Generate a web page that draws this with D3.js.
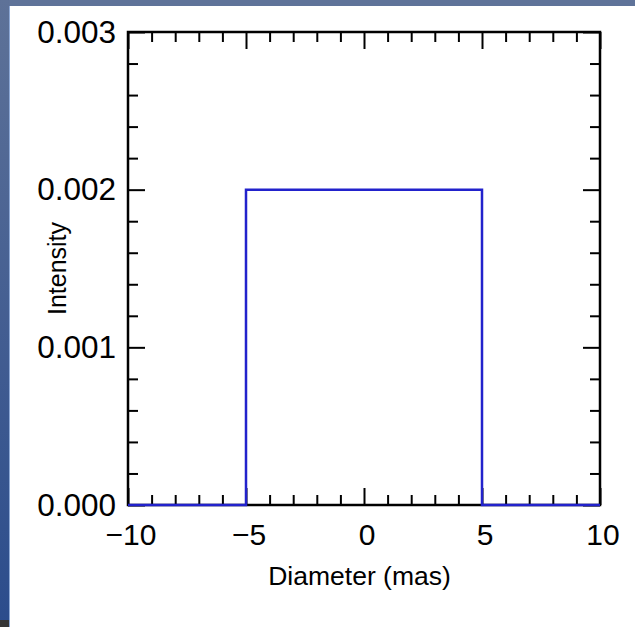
<!DOCTYPE html>
<html>
<head>
<meta charset="utf-8">
<script src="https://cdn.jsdelivr.net/npm/d3@7"></script>
<style>
  body { margin: 0; background: #fff; }
  svg { display: block; }
  text { font-family: "Liberation Sans", Arial, Helvetica, sans-serif; fill: #000; }
</style>
</head>
<body>
<div id="chart"></div>
<script>
// step profile of a uniform disk
const diameter = [-10, -5, -5, 5, 5, 10];
const intensity = [0, 0, 0.002, 0.002, 0, 0];

const xMajor = [-10, -5, 0, 5, 10];
const xMinor = [-9, -8, -7, -6, -4, -3, -2, -1, 1, 2, 3, 4, 6, 7, 8, 9];
const yMajor = [0, 0.001, 0.002, 0.003];
const yMinor = [0.0002, 0.0004, 0.0006, 0.0008, 0.0012, 0.0014, 0.0016, 0.0018,
                0.0022, 0.0024, 0.0026, 0.0028];
const xLabels = ["\u221210", "\u22125", "0", "5", "10"];
const yLabels = ["0.000", "0.001", "0.002", "0.003"];

const W = 635, H = 627;
const margin = { top: 32, right: 35, bottom: 122, left: 128 };
const width = W - margin.left - margin.right;
const height = H - margin.top - margin.bottom;

const root = d3.select("#chart").append("svg")
    .attr("width", W)
    .attr("height", H);

// 背景边框
const defs = root.append("defs");
const grad = defs.append("linearGradient")
    .attr("id", "side").attr("x1", 0).attr("y1", 0).attr("x2", 0).attr("y2", 1);
grad.append("stop").attr("offset", "0%").attr("stop-color", "#5e7298");
grad.append("stop").attr("offset", "100%").attr("stop-color", "#2b4c8c");

root.append("rect").attr("x", 0).attr("y", 0).attr("width", W).attr("height", 6).attr("fill", "#5f7399");
root.append("rect").attr("x", 0).attr("y", 0).attr("width", 9).attr("height", H).attr("fill", "url(#side)");
root.append("rect").attr("x", 9).attr("y", 6).attr("width", 1).attr("height", H - 6).attr("fill", "#8ea9d6");
root.append("rect").attr("x", 0).attr("y", 620).attr("width", 9).attr("height", 7).attr("fill", "#353535");

const svg = root.append("g")
    .attr("transform", `translate(${margin.left},${margin.top})`);

const x = d3.scaleLinear().domain([-10, 10]).range([0, width]);
const y = d3.scaleLinear().domain([0, 0.003]).range([height, 0]);

// 刻度（向内）
function ticks(axis, pos, values, size) {
    const g = svg.append("g")
        .attr("transform", pos)
        .call(axis.tickValues(values).tickSize(-size).tickFormat(""));
    g.select(".domain").remove();
    g.selectAll("line").attr("stroke", "#000").attr("stroke-width", 2);
}
ticks(d3.axisBottom(x), `translate(0,${height})`, xMinor, 10);
ticks(d3.axisBottom(x), `translate(0,${height})`, xMajor, 17);
ticks(d3.axisTop(x), "translate(0,0)", xMinor, 10);
ticks(d3.axisTop(x), "translate(0,0)", xMajor, 17);
ticks(d3.axisLeft(y), "translate(0,0)", yMinor, 10);
ticks(d3.axisLeft(y), "translate(0,0)", yMajor, 17);
ticks(d3.axisRight(y), `translate(${width},0)`, yMinor, 10);
ticks(d3.axisRight(y), `translate(${width},0)`, yMajor, 17);

svg.append("rect")
    .attr("width", width)
    .attr("height", height)
    .attr("fill", "none")
    .attr("stroke", "#000")
    .attr("stroke-width", 2.5);

// 强度曲线
const line = d3.line()
    .x((d, i) => x(diameter[i]))
    .y(d => y(d));

svg.append("path")
    .datum(intensity)
    .attr("fill", "none")
    .attr("stroke", "#2222cc")
    .attr("stroke-width", 2.5)
    .attr("d", line);

// 刻度标签
svg.selectAll(".xl")
    .data(xMajor)
    .enter()
    .append("text")
    .attr("x", d => x(d) + 3)
    .attr("y", height + 40)
    .attr("text-anchor", "middle")
    .style("font-size", "30px")
    .text((d, i) => xLabels[i]);

svg.selectAll(".yl")
    .data(yMajor)
    .enter()
    .append("text")
    .attr("x", -12)
    .attr("y", d => y(d) + 10.5)
    .attr("text-anchor", "end")
    .style("font-size", "31.5px")
    .text((d, i) => yLabels[i]);

// 坐标轴标题
root.append("text")
    .attr("x", 359.5)
    .attr("y", 585)
    .attr("text-anchor", "middle")
    .style("font-size", "26.5px")
    .text("Diameter (mas)");

root.append("text")
    .attr("transform", "translate(66,268.5) rotate(-90)")
    .attr("text-anchor", "middle")
    .style("font-size", "25px")
    .text("Intensity");
</script>
</body>
</html>
